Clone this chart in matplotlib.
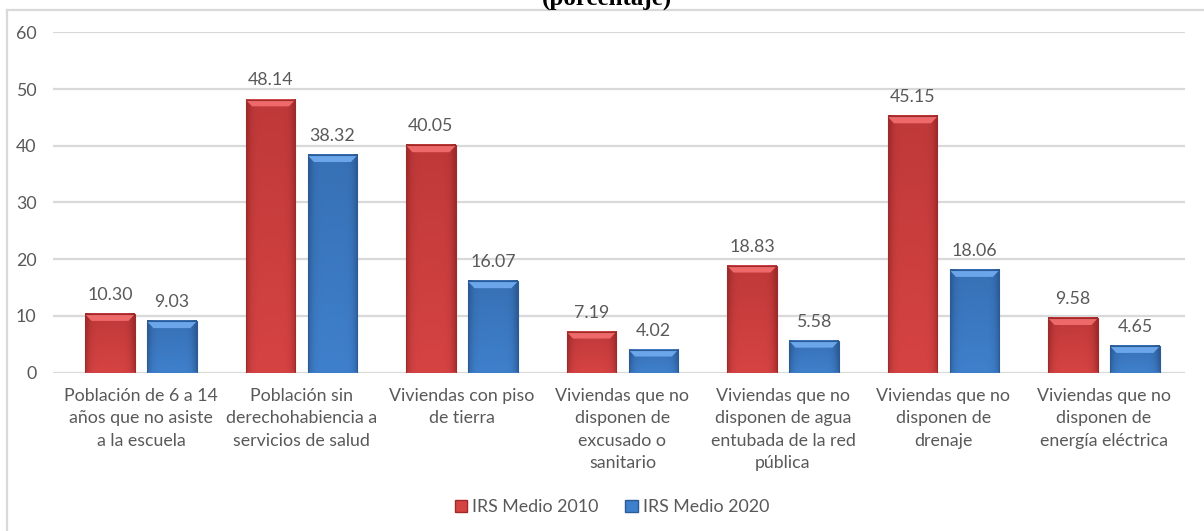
import numpy as np
import matplotlib
matplotlib.use('Agg')
import matplotlib.pyplot as plt
from matplotlib.lines import Line2D
from matplotlib.patches import Polygon, Patch

categories = ['Población de 6 a 14\naños que no asiste\na la escuela',
              'Población sin\nderechohabiencia a\nservicios de salud',
              'Viviendas con piso\nde tierra',
              'Viviendas que no\ndisponen de\nexcusado o\nsanitario',
              'Viviendas que no\ndisponen de agua\nentubada de la red\npública',
              'Viviendas que no\ndisponen de\ndrenaje',
              'Viviendas que no\ndisponen de\nenergía eléctrica']
irs_2010 = [10.30, 48.14, 40.05, 7.19, 18.83, 45.15, 9.58]
irs_2020 = [9.03, 38.32, 16.07, 4.02, 5.58, 18.06, 4.65]
series_names = ['IRS Medio 2010', 'IRS Medio 2020']
yticks = [0, 10, 20, 30, 40, 50, 60]

plt.rcParams['font.family'] = ['Lato', 'DejaVu Sans']
txt = '#595959'
fs = 12.8

fig = plt.figure(figsize=(12.04, 5.31), dpi=100)
ax = fig.add_axes([53/1204, 1 - 372.5/531, (1185-53)/1204, (372.5-32.3)/531])

x = np.arange(len(categories))
w = 0.31
off = 0.193


def shade(base, dark):
    # horizontal + vertical gradient like the office bevel style
    nx, ny = 40, 60
    u = np.linspace(-1, 1, nx)
    v = np.linspace(0, 1, ny)[:, None]
    edge = np.clip(np.abs(u) ** 6, 0, 1)[None, :]
    t = np.clip(0.75 * edge + 0.4 * (1 - v), 0, 1)
    base = np.array(matplotlib.colors.to_rgb(base))
    dark = np.array(matplotlib.colors.to_rgb(dark))
    return base[None, None, :] * (1 - t[..., None]) + dark[None, None, :] * t[..., None]


styles = [('#D64343', '#9E2A2A', '#EE6A6A'), ('#3F80CC', '#2B5A94', '#6BA6EA')]
for vals, sgn, (base, dark, light), name in zip([irs_2010, irs_2020], [-1, 1], styles, series_names):
    bars = ax.bar(x + sgn * off, vals, w, color=base, zorder=2, label=name)
    img = shade(base, dark)
    for b, val in zip(bars, vals):
        x0, x1 = b.get_x(), b.get_x() + b.get_width()
        ax.imshow(img, extent=[x0, x1, 0, val], aspect='auto', zorder=3, origin='upper')
        dv = min(1.2, val * 0.3)
        ax.add_patch(Polygon([(x0, val), (x1, val), (x1 - 0.04, val - dv), (x0 + 0.04, val - dv)],
                             closed=True, color=light, zorder=4, lw=0))
        ax.add_patch(Polygon([(x0, 0), (x0, val), (x1, val), (x1, 0)], closed=True,
                             fill=False, ec=dark, lw=0.8, zorder=5))
        ax.annotate(f'{val:.2f}', (b.get_x() + b.get_width() / 2, val), xytext=(0, 8),
                    textcoords='offset points', ha='center', va='bottom', fontsize=fs, color=txt)

ax.set_xlim(-0.548, 6.505)
ax.set_ylim(0, 60)
ax.set_yticks(yticks)
ax.set_xticks(x)
ax.set_xticklabels(categories, fontsize=fs, color=txt, linespacing=1.5, va='top')
ax.tick_params(axis='x', length=0, pad=11)
ax.tick_params(axis='y', length=0, pad=12, labelsize=fs, labelcolor=txt)
ax.grid(axis='y', color='#D9D9D9', lw=1.6, zorder=0)
ax.set_axisbelow(True)
for s in ax.spines.values():
    s.set_visible(False)

handles = [Patch(facecolor=styles[0][0], edgecolor=styles[0][1]),
           Patch(facecolor=styles[1][0], edgecolor=styles[1][1])]
fig.legend(handles, series_names, loc='center', bbox_to_anchor=(612/1204, 1 - 507/531), ncol=2,
           frameon=False, fontsize=fs, labelcolor=txt, handlelength=0.7, handleheight=0.7,
           handletextpad=0.3, columnspacing=1.5)

fig.text(607/1204, 1 - 5/531, '(porcentaje)', ha='center', va='baseline', fontsize=18,
         fontweight='bold', family='Liberation Serif')

fig.add_artist(Line2D([7/1204, 1], [1 - 10/531] * 2, color='#D9D9D9', lw=1.6))
fig.add_artist(Line2D([7/1204] * 2, [0, 1 - 10/531], color='#D9D9D9', lw=1.6))

fig.savefig('out.png', dpi=100)
